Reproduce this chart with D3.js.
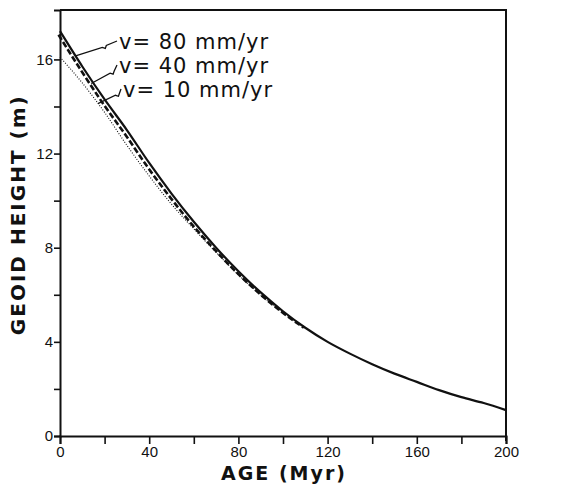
<!DOCTYPE html>
<html>
<head>
<meta charset="utf-8">
<script src="https://cdn.jsdelivr.net/npm/d3@7"></script>
<style>
body { margin: 0; background: #fff; }
svg text { fill: #111; }
.tick-label { font-family: "Liberation Sans", Arial, sans-serif; font-size: 15px; }
.axis-title { font-family: "DejaVu Sans", "Liberation Sans", sans-serif; font-weight: bold; font-size: 20px; letter-spacing: 2px; }
.legend { font-family: "DejaVu Sans", "Liberation Sans", sans-serif; font-size: 21px; letter-spacing: 1px; }
</style>
</head>
<body>
<div id="chart"></div>
<script>
// ages in Myr
const ages = [0, 10, 20, 30, 40, 50, 60, 70, 80, 90, 100, 110, 120, 130, 140, 150, 160, 170, 180, 190, 200]

// geoid height (m)
const v80 = [17.2, 15.7, 14.3, 13.0, 11.6, 10.3, 9.1, 8.0, 7.0, 6.1, 5.3, 4.6, 4.0, 3.5, 3.05, 2.65, 2.3, 1.95, 1.65, 1.4, 1.1]
const v40 = [17.05, 15.55, 14.12, 12.8, 11.42, 10.15, 8.97, 7.92, 6.94, 6.06, 5.28, 4.6]
const v10 = [16.1, 15.0, 13.75, 12.35, 11.05, 9.85, 8.8, 7.8, 6.85, 6.0, 5.25, 4.6]

const labels = ['v= 80 mm/yr', 'v= 40 mm/yr', 'v= 10 mm/yr']
const labelAges = [7, 14, 17]

const xMajor = [0, 40, 80, 120, 160, 200]
const xMinor = [20, 60, 100, 140, 180]
const yMajor = [0, 4, 8, 12, 16]
const yMinor = [2, 6, 10, 14]

let width = 562
let height = 485

let svg = d3.select('#chart').append('svg')
.attr('width', width)
.attr('height', height)

let x = d3.scaleLinear().domain([0, 200]).range([60, 506])
let y = d3.scaleLinear().domain([0, 18.1]).range([436, 10])

let line = d3.line()
.x(d => x(d[0]))
.y(d => y(d[1]))
.curve(d3.curveMonotoneX)

const toPts = vals => vals.map((v, i) => [ages[i], v])

// frame
svg.append('path')
.attr('d', `M${x(0)},${y(18.1)}H${x(200)}V${y(0) + 5}`)
.attr('fill', 'none')
.attr('stroke', '#111')
.attr('stroke-width', 2)

// axes
let xAxis = svg.append('g')
.attr('transform', `translate(0,${y(0)})`)
.call(d3.axisBottom(x).tickValues(xMajor.concat(xMinor)).tickSize(8).tickPadding(2).tickFormat(d => xMajor.includes(d) ? d : ''))

let yAxis = svg.append('g')
.attr('transform', `translate(${x(0)},0)`)
.call(d3.axisLeft(y).tickValues(yMajor.concat(yMinor)).tickSize(6).tickFormat(d => yMajor.includes(d) ? d : ''))

;[xAxis, yAxis].forEach(a => {
	a.select('.domain').attr('stroke', '#111').attr('stroke-width', 2)
	a.selectAll('.tick line').attr('stroke', '#111').attr('stroke-width', 1.6)
	a.selectAll('.tick text').attr('class', 'tick-label').attr('font-size', null).attr('font-family', null).attr('fill', '#111')
})
yAxis.selectAll('.tick text').attr('x', -7)

svg.append('text')
.attr('class', 'axis-title')
.attr('x', (x(0) + x(200)) / 2 + 1)
.attr('y', 480)
.attr('text-anchor', 'middle')
.style('font-size', '19px')
.text('AGE (Myr)')

svg.append('text')
.attr('class', 'axis-title')
.attr('transform', `translate(25,${y(9.4)}) rotate(-90)`)
.attr('text-anchor', 'middle')
.text('GEOID HEIGHT (m)')

// curves
svg.append('path')
.attr('d', line(toPts(v80)))
.attr('fill', 'none')
.attr('stroke', '#111')
.attr('stroke-width', 2.2)

svg.append('path')
.attr('d', line(toPts(v40)))
.attr('fill', 'none')
.attr('stroke', '#111')
.attr('stroke-width', 2.6)
.attr('stroke-dasharray', '6,2.5')
.attr('transform', 'translate(-1.5,0)')

svg.append('path')
.attr('d', line(toPts(v10)))
.attr('fill', 'none')
.attr('stroke', '#111')
.attr('stroke-width', 1.1)
.attr('stroke-dasharray', '1,1.6')

// labels with leaders
const series = [v80, v40, v10]
const textPos = [[119, 49], [119, 73], [123, 97]]

labels.forEach((t, i) => {
	let vals = series[i]
	let a = labelAges[i]
	let k = Math.floor(a / 10)
	let v = vals[k] + (vals[k + 1] - vals[k]) * (a - k * 10) / 10
	let tx = x(a), ty = y(v)
	let sx = textPos[i][0] - 2, sy = textPos[i][1] - 8
	let mx = (sx + tx) / 2 + 8, my = (sy + ty) / 2 - 1
	svg.append('path')
	.attr('d', `M${sx},${sy}L${mx + 2},${my - 2}l-1,3l-3,-1L${tx},${ty}`)
	.attr('fill', 'none')
	.attr('stroke', '#111')
	.attr('stroke-width', 1.3)

	svg.append('text')
	.attr('class', 'legend')
	.attr('x', textPos[i][0])
	.attr('y', textPos[i][1])
	.text(t)
})
</script>
</body>
</html>
